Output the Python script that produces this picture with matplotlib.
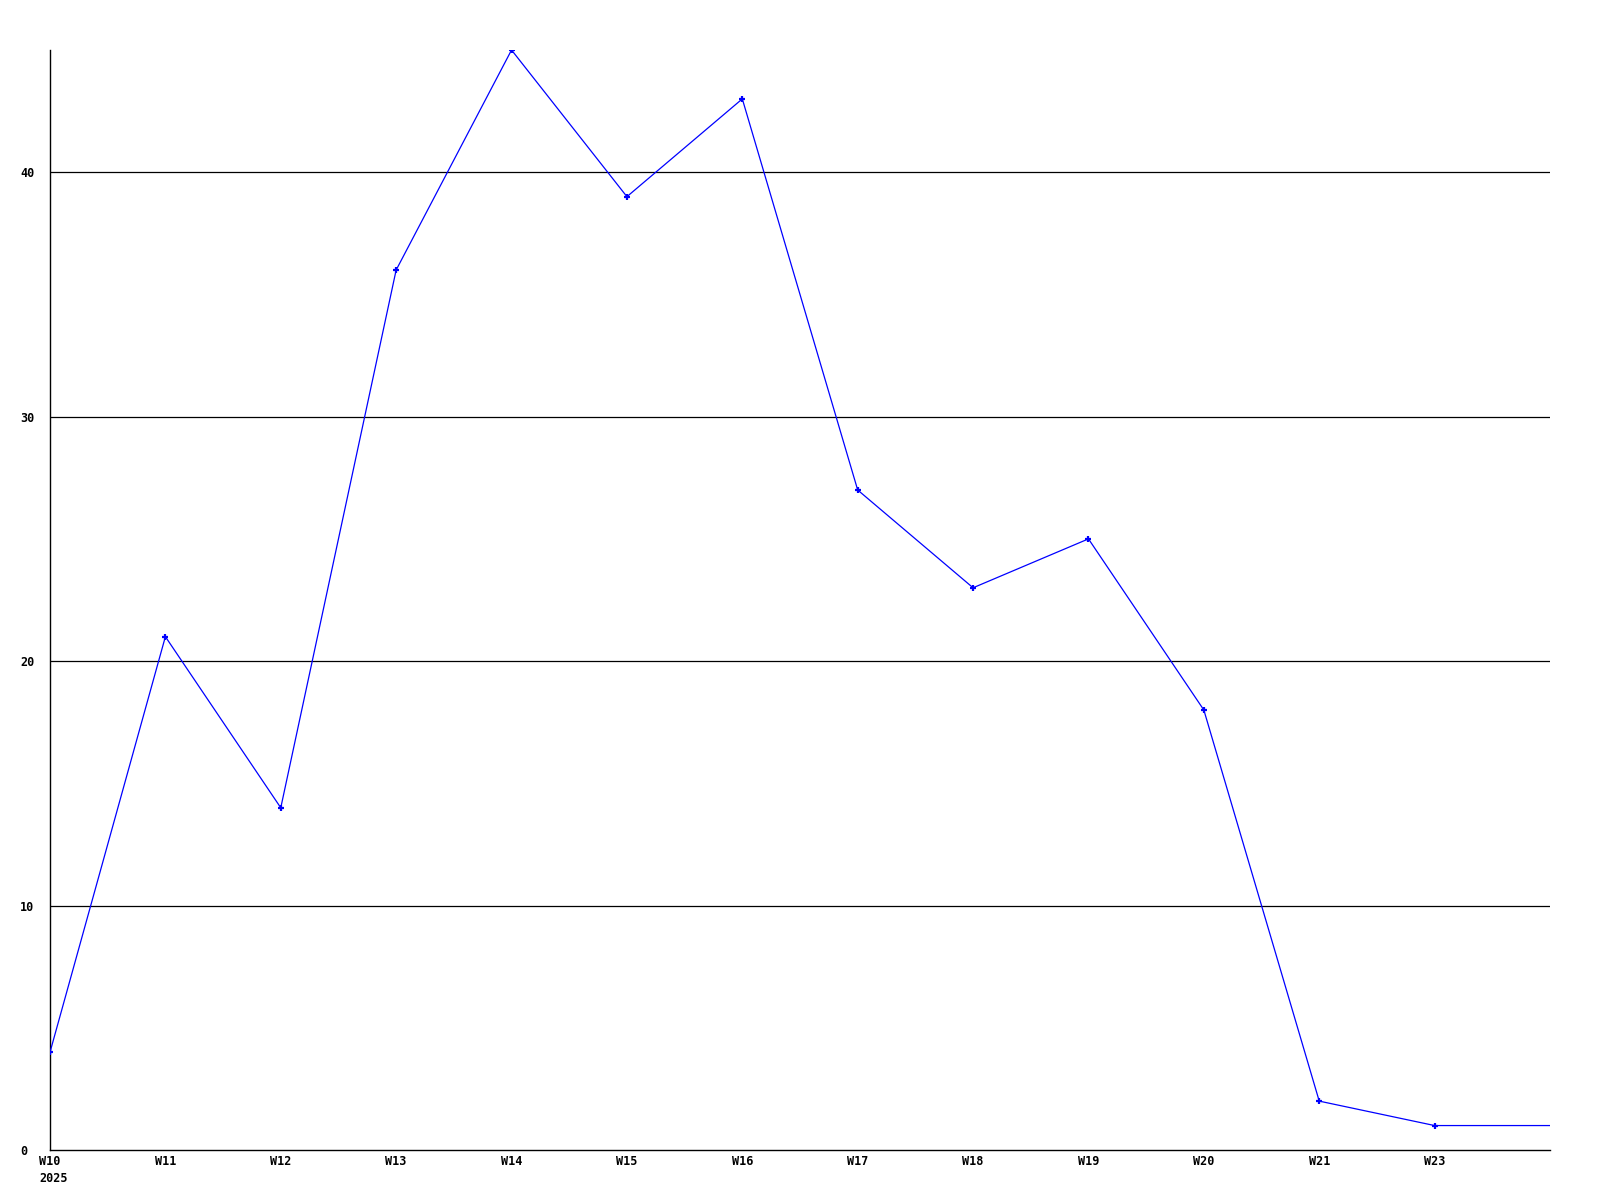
import matplotlib
matplotlib.use("Agg")
import matplotlib.pyplot as plt

# weekly counts
weeks = ["W10", "W11", "W12", "W13", "W14", "W15", "W16", "W17", "W18", "W19", "W20", "W21", "W23"]
values = [4, 21, 14, 36, 45, 39, 43, 27, 23, 25, 18, 2, 1]
year = "2025"
yticks = [0, 10, 20, 30, 40]

fig = plt.figure(figsize=(16, 12), dpi=100)
ax = fig.add_axes([50 / 1600, 50 / 1200, 1500 / 1600, 1100 / 1200])

x = list(range(len(weeks)))
x_end = len(weeks)  # line continues to the right edge at the last value

for y in yticks[1:]:
    ax.axhline(y, color="black", linewidth=0.9, zorder=1)

ax.plot(x + [x_end], values + [values[-1]], color="#0000ff", linewidth=0.9,
        marker="+", markersize=4, markeredgewidth=1.6, markevery=list(range(len(x))), zorder=3)

ax.set_xlim(0, x_end)
ax.set_ylim(0, 45)

ax.spines["top"].set_visible(False)
ax.spines["right"].set_visible(False)
ax.spines["left"].set_linewidth(1.0)
ax.spines["bottom"].set_linewidth(1.0)

font = dict(family="DejaVu Sans Mono", weight="bold", size=8.5)

ax.set_xticks(x)
ax.set_xticklabels(weeks, **font)
ax.set_yticks(yticks)
ax.set_yticklabels([str(v) for v in yticks], **font)
for lab in ax.get_yticklabels():
    lab.set_horizontalalignment("left")
ax.tick_params(axis="x", length=0, pad=3.5)
ax.tick_params(axis="y", length=0, pad=21.5)

ax.annotate(year, xy=(0, 0), xycoords=("data", "axes fraction"),
            xytext=(-7.5, -15.5), textcoords="offset points",
            ha="left", va="top", **font)

fig.savefig("out.png", dpi=100)
